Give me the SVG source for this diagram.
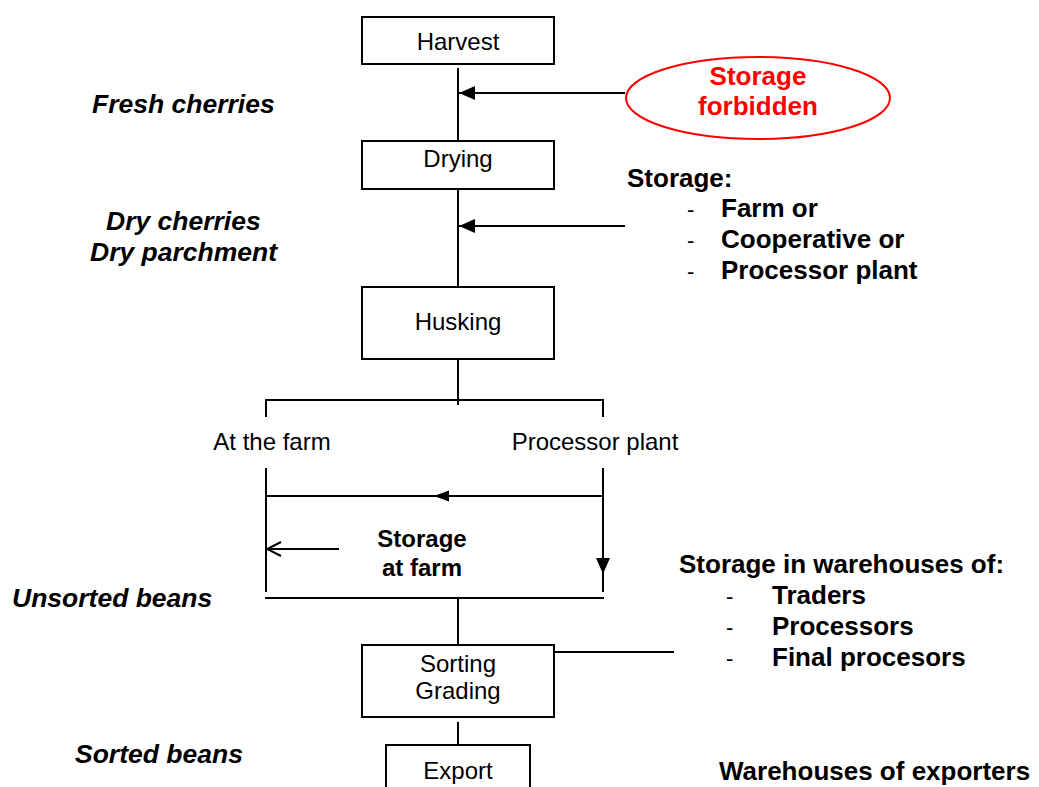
<svg xmlns="http://www.w3.org/2000/svg" width="1039" height="787" viewBox="0 0 1039 787">
<defs>
<style>
.box{fill:#fff;stroke:#000;stroke-width:2}
.ln{stroke:#000;stroke-width:2;fill:none}
.t{font-family:"Liberation Sans",Arial,sans-serif;font-size:24px;fill:#000}
.b{font-family:"Liberation Sans",Arial,sans-serif;font-size:24px;font-weight:bold;fill:#000}
.bl{font-family:"Liberation Sans",Arial,sans-serif;font-size:26px;font-weight:bold;fill:#000}
.bi{font-family:"Liberation Sans",Arial,sans-serif;font-size:26.5px;font-weight:bold;font-style:italic;fill:#000}
.r{font-family:"Liberation Sans",Arial,sans-serif;font-size:26px;font-weight:bold;fill:#ff0000}
.d{font-family:"Liberation Sans",Arial,sans-serif;font-size:22px;fill:#000}
</style>
<marker id="ah" markerWidth="16" markerHeight="14" refX="16" refY="7" orient="auto" markerUnits="userSpaceOnUse">
<path d="M0,0 L16,7 L0,14 z" fill="#000"/>
</marker>
<marker id="ahs" markerWidth="15" markerHeight="12" refX="15" refY="6" orient="auto" markerUnits="userSpaceOnUse">
<path d="M0,0.5 L15,6 L0,11.5 z" fill="#000"/>
</marker>
<marker id="aho" markerWidth="16" markerHeight="16" refX="15" refY="8" orient="auto" markerUnits="userSpaceOnUse">
<path d="M1,1 L15,8 L1,15" fill="none" stroke="#000" stroke-width="2"/>
</marker>
</defs>
<rect width="1039" height="787" fill="#fff"/>

<g id="connectors">
<line class="ln" x1="458" y1="68" x2="458" y2="141"/>
<line class="ln" x1="625" y1="93" x2="459" y2="93" marker-end="url(#ah)"/>
<line class="ln" x1="458" y1="190" x2="458" y2="287"/>
<line class="ln" x1="625" y1="226" x2="459" y2="226" marker-end="url(#ah)"/>
<line class="ln" x1="458" y1="360" x2="458" y2="405"/>
<line class="ln" x1="265" y1="400" x2="604" y2="400"/>
<line class="ln" x1="266" y1="400" x2="266" y2="417"/>
<line class="ln" x1="603" y1="400" x2="603" y2="417"/>
<line class="ln" x1="266" y1="468" x2="266" y2="592"/>
<line class="ln" x1="603" y1="468" x2="603" y2="574" marker-end="url(#ah)"/>
<line class="ln" x1="603" y1="570" x2="603" y2="592"/>
<line class="ln" x1="265" y1="496" x2="603" y2="496"/>
<line class="ln" x1="459" y1="496" x2="434" y2="496" marker-end="url(#ahs)"/>
<line class="ln" x1="339" y1="549" x2="267" y2="549" marker-end="url(#aho)"/>
<line class="ln" x1="265" y1="598" x2="604" y2="598"/>
<line class="ln" x1="458" y1="598" x2="458" y2="645"/>
<line class="ln" x1="554" y1="652" x2="674" y2="652"/>
<line class="ln" x1="458" y1="722" x2="458" y2="745"/>
</g>

<g id="harvest">
<rect class="box" x="362" y="17" width="192" height="47"/>
<text class="t" x="458" y="50" text-anchor="middle">Harvest</text>
</g>
<g id="drying">
<rect class="box" x="362" y="141" width="192" height="48"/>
<text class="t" x="458" y="167" text-anchor="middle">Drying</text>
</g>
<g id="husking">
<rect class="box" x="362" y="287" width="192" height="72"/>
<text class="t" x="458" y="330" text-anchor="middle">Husking</text>
</g>
<g id="sorting">
<rect class="box" x="362" y="645" width="192" height="72"/>
<text class="t" x="458" y="672" text-anchor="middle">Sorting</text>
<text class="t" x="458" y="699" text-anchor="middle">Grading</text>
</g>
<g id="export">
<rect class="box" x="386" y="745" width="144" height="60"/>
<text class="t" x="458" y="779" text-anchor="middle">Export</text>
</g>
<g id="storage-forbidden">
<ellipse cx="758" cy="98" rx="132" ry="41" fill="#fff" stroke="#ff0000" stroke-width="2"/>
<text class="r" x="758" y="85" text-anchor="middle">Storage</text>
<text class="r" x="758" y="115" text-anchor="middle">forbidden</text>
</g>

<g id="labels">
<text class="bi" x="92" y="113">Fresh cherries</text>
<text class="bi" x="106" y="230">Dry cherries</text>
<text class="bi" x="90" y="261">Dry parchment</text>
<text class="bi" x="12" y="607">Unsorted beans</text>
<text class="bi" x="75" y="763">Sorted beans</text>
<text class="t" x="272" y="450" text-anchor="middle">At the farm</text>
<text class="t" x="595" y="450" text-anchor="middle">Processor plant</text>
<text class="b" x="422" y="547" text-anchor="middle">Storage</text>
<text class="b" x="422" y="576" text-anchor="middle">at farm</text>
</g>

<g id="storage-list">
<text class="bl" x="627" y="187">Storage:</text>
<text class="d" x="687" y="217">-</text>
<text class="bl" x="721" y="217">Farm or</text>
<text class="d" x="687" y="248">-</text>
<text class="bl" x="721" y="248">Cooperative or</text>
<text class="d" x="687" y="279">-</text>
<text class="bl" x="721" y="279">Processor plant</text>
</g>

<g id="warehouse-list">
<text class="bl" x="679" y="573">Storage in warehouses of:</text>
<text class="d" x="726" y="604">-</text>
<text class="bl" x="772" y="604">Traders</text>
<text class="d" x="726" y="635">-</text>
<text class="bl" x="772" y="635">Processors</text>
<text class="d" x="726" y="666">-</text>
<text class="bl" x="772" y="666">Final procesors</text>
<text class="bl" x="719" y="780">Warehouses of exporters</text>
</g>
</svg>
